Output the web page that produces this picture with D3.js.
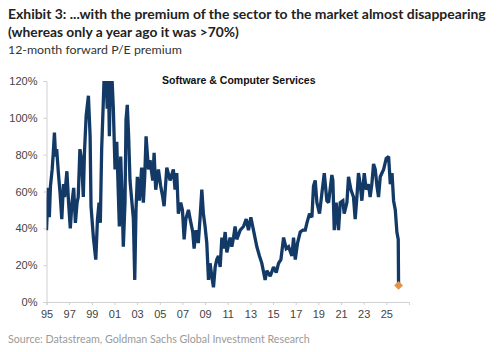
<!DOCTYPE html>
<html>
<head>
<meta charset="utf-8">
<script src="https://cdn.jsdelivr.net/npm/d3@7"></script>
<style>
  body { margin: 0; background: #fff; }
</style>
</head>
<body>
<div id="chart"></div>
<script>
// decimal years and 12m fwd P/E premium (%)
var dates = [
    1995.0, 1995.1, 1995.15, 1995.25, 1995.35, 1995.5, 1995.6, 1995.7, 1995.8, 1995.9,
    1996.05, 1996.2, 1996.35, 1996.5, 1996.6, 1996.8, 1996.95, 1997.1, 1997.25, 1997.4,
    1997.55, 1997.7, 1997.8, 1997.95, 1998.1, 1998.25, 1998.35, 1998.5, 1998.7, 1998.85,
    1998.93, 1999.14, 1999.35, 1999.5, 1999.64, 1999.75, 1999.87, 2000.0, 2000.13, 2000.25,
    2000.36, 2000.45, 2000.55, 2000.64, 2000.75, 2000.9, 2001.05, 2001.2, 2001.35, 2001.43,
    2001.55, 2001.67, 2001.78, 2001.93, 2002.02, 2002.13, 2002.25, 2002.37, 2002.5, 2002.67,
    2002.79, 2002.9, 2003.02, 2003.2, 2003.4, 2003.55, 2003.67, 2003.79, 2004.0, 2004.14,
    2004.38, 2004.5, 2004.64, 2004.88, 2005.08, 2005.26, 2005.38, 2005.62, 2005.91, 2006.2,
    2006.35, 2006.5, 2006.64, 2006.85, 2007.0, 2007.15, 2007.3, 2007.53, 2007.68, 2007.91,
    2008.03, 2008.2, 2008.4, 2008.56, 2008.71, 2008.85, 2009.0, 2009.15, 2009.3, 2009.44,
    2009.59, 2009.74, 2009.89, 2010.03, 2010.18, 2010.33, 2010.48, 2010.62, 2010.77, 2010.92,
    2011.21, 2011.36, 2011.51, 2011.65, 2011.8, 2012.1, 2012.39, 2012.63, 2012.83, 2013.04,
    2013.27, 2013.57, 2013.8, 2014.01, 2014.3, 2014.45, 2014.75, 2015.04, 2015.28, 2015.48,
    2015.69, 2015.93, 2016.16, 2016.37, 2016.66, 2016.81, 2016.96, 2017.16, 2017.4, 2017.63,
    2017.84, 2017.99, 2018.22, 2018.43, 2018.57, 2018.72, 2018.87, 2019.1, 2019.31, 2019.52,
    2019.75, 2019.9, 2020.19, 2020.28, 2020.4, 2020.57, 2020.78, 2020.93, 2021.16, 2021.28,
    2021.52, 2021.66, 2021.87, 2022.1, 2022.25, 2022.4, 2022.54, 2022.69, 2022.84, 2023.05,
    2023.22, 2023.43, 2023.57, 2023.72, 2023.87, 2024.02, 2024.17, 2024.31, 2024.46, 2024.76,
    2024.99, 2025.2, 2025.35, 2025.5, 2025.64, 2025.79, 2025.93, 2026.05, 2026.08
];
var premium = [
    39, 54, 62, 46, 63, 72, 81, 92, 79, 83,
    70, 59, 45, 64, 57, 71, 54, 40, 54, 62,
    43, 54, 57, 83, 77, 57, 81, 101, 112, 90,
    52, 35, 23, 45, 54, 43, 83, 106, 130, 125,
    105, 128, 90, 122, 126, 105, 72, 87, 57, 41,
    79, 57, 30, 54, 99, 107, 90, 66, 57, 45,
    12, 50, 68, 55, 73, 54, 68, 90, 72, 77,
    66, 81, 61, 72, 63, 57, 52, 73, 66, 72,
    61, 70, 48, 54, 50, 34, 45, 50, 45, 38,
    29, 39, 32, 46, 61, 48, 41, 32, 12, 21,
    14, 8, 19, 23, 25, 19, 35, 29, 38, 27,
    35, 30, 35, 41, 34, 39, 41, 45, 39, 46,
    39, 30, 25, 21, 12, 17, 14, 19, 16, 21,
    23, 35, 29, 30, 25, 35, 23, 32, 38, 39,
    39, 43, 48, 46, 63, 66, 54, 48, 59, 70,
    55, 54, 69, 66, 39, 54, 39, 54, 55, 48,
    54, 68, 61, 57, 45, 57, 70, 64, 55, 70,
    61, 64, 57, 64, 75, 72, 63, 57, 68, 72,
    78, 79, 64, 70, 55, 50, 38, 34, 9
];
var yTicks = [0, 20, 40, 60, 80, 100, 120];
var xTicks = [1995, 1997, 1999, 2001, 2003, 2005, 2007, 2009, 2011, 2013, 2015, 2017, 2019, 2021, 2023, 2025];

(function(){

    var width = 500;
    var height = 352;

    var margin = {
        top: 81,
        bottom: 50,
        left: 46.5,
        right: 91,
    };

    var font = '"Liberation Sans", Arial, sans-serif';
    var titleFont = 'Lato, "Open Sans", sans-serif';

    var svg = d3.select("#chart")
        .append("svg")
            .attr("width", width)
            .attr("height", height)
            .style("font-family", font);

    // titles; font size is fitted to the width each line has in the original
    var texts = [
        { t: 'Exhibit 3: ...with the premium of the sector to the market almost disappearing', y: 19, size: 14.5, bold: true, fill: '#222', w: 478 },
        { t: '(whereas only a year ago it was >70%)', y: 37, size: 14.5, bold: true, fill: '#222', w: 231 },
        { t: '12-month forward P/E premium', y: 54, size: 13, bold: false, fill: '#333', w: 174 },
        { t: 'Source: Datastream, Goldman Sachs Global Investment Research', y: 343, size: 11.5, bold: false, fill: '#9a9a9a', w: 302 }
    ];

    svg.selectAll('.title')
        .data(texts)
        .enter()
        .append('text')
        .attr('class', 'title')
        .attr('x', 8)
        .attr('y', function(d){ return d.y; })
        .attr('font-family', titleFont)
        .attr('font-weight', function(d){ return d.bold ? 'bold' : 'normal'; })
        .attr('font-size', function(d){ return d.size + 'px'; })
        .attr('fill', function(d){ return d.fill; })
        .text(function(d){ return d.t; })
        .each(function(d){
            var len = this.getComputedTextLength();
            d3.select(this).attr('font-size', (d.size * d.w / len).toFixed(2) + 'px');
        });

    var plotW = width - margin.left - margin.right;
    var plotH = height - margin.top - margin.bottom;

    var g = svg.append("g")
        .attr("transform", "translate(" + margin.left + "," + margin.top + ")");

    var xScale = d3.scaleLinear()
        .domain([1995, 2027])
        .range([0, plotW]);

    var yScale = d3.scaleLinear()
        .domain([0, 120])
        .range([plotH, 0]);

    var yAxis = d3.axisLeft(yScale)
        .tickValues(yTicks)
        .tickSize(3)
        .tickFormat(function(d){ return d + '%'; });

    var xAxis = d3.axisBottom(xScale)
        .tickValues(xTicks)
        .tickSize(3)
        .tickFormat(function(d){ return String(d).slice(2); });

    g.append('g')
        .attr('class', 'y axis')
        .call(yAxis);

    g.append('g')
        .attr('class', 'x axis')
        .attr('transform', 'translate(0,' + plotH + ')')
        .call(xAxis);

    g.selectAll('.axis path, .axis line')
        .attr('stroke', '#d0d0d0');
    g.selectAll('.axis text')
        .attr('fill', '#444')
        .attr('font-size', '11px')
        .attr('font-family', font);
    g.select('.y.axis').selectAll('text')
        .attr('x', -9);
    g.select('.x.axis').selectAll('text')
        .attr('y', 8);

    g.append('clipPath')
        .attr('id', 'clip')
        .append('rect')
        .attr('x', 0)
        .attr('y', 0)
        .attr('width', plotW)
        .attr('height', plotH);

    var data = dates.map(function(d, i){
        return { t: d, v: premium[i] };
    });

    var line = d3.line()
        .x(function(d){ return xScale(d.t); })
        .y(function(d){ return yScale(d.v); });

    g.append('path')
        .datum(data)
        .attr('clip-path', 'url(#clip)')
        .attr('fill', 'none')
        .attr('stroke', '#133a66')
        .attr('stroke-width', 3.3)
        .attr('stroke-linejoin', 'miter')
        .attr('stroke-miterlimit', 2)
        .attr('d', line);

    var last = data[data.length - 1];
    g.append('path')
        .attr('d', d3.symbol().type(d3.symbolDiamond2).size(50))
        .attr('transform', 'translate(' + xScale(last.t) + ',' + yScale(last.v) + ')')
        .attr('fill', '#e8913f');

    g.append('text')
        .attr('x', xScale(2005.2))
        .attr('y', 3)
        .attr('font-weight', 'bold')
        .attr('font-size', '10.5px')
        .attr('fill', '#111')
        .text('Software & Computer Services');

})();
</script>
</body>
</html>
